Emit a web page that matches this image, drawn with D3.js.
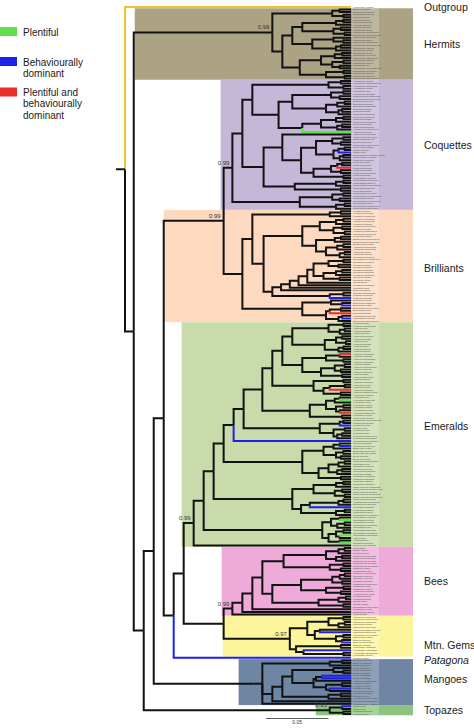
<!DOCTYPE html>
<html><head><meta charset="utf-8">
<script src="https://cdn.jsdelivr.net/npm/d3@7"></script>
<style>body{margin:0;background:#fff}svg{display:block}</style>
</head><body>
<svg id="chart" width="474" height="728"></svg>
<script>
// ===================== DATA =====================
// Tree topology in Newick-like form. Internal nodes carry their height above the tips
// (units of 0.001 substitutions/site), "#x" = posterior support. "*" = tip, optional
// letter = highlighted tip state (g plentiful, b behaviourally dominant, r both, y outgroup).
const backboneNewick = "({Outgroup},({Hermits},(((({Coquettes},{Brilliants})102#0.99,(({Emeralds},({Bees},{MtnGems})102)134,{Patagona})142)150,{Mangoes})158,{Topazes})166)174)181";
const rootEdge = 7.2;
const scaleBarValue = 0.05;            // substitutions/site
const heightUnit = 0.001;

const outgroupNewick = "*y";
const hermitsNewick = "(((*,*)9,(*,*)6)15,(((((*,*)6,*)12,((*,*)8,(*,*)5)14)39,((*,(*,*)6)14,((*,*)8,*)12)31)47,((((*,*)7,*)13,((*,*)6,(*,*)9)15)24,((*,*)6,(*,*)5)20)41)55)63#0.99";
const coquettesNewick = "(((((*,*)8,(*,*)6)18,((((*,*)6,(*,*)9)16,(((*,*)5,*)11,((*,*)7,*)10)20)47,((((*,*)6,*)12,((*,*)7,*)11)24,*g)39)58)79,((*,((((*,*)6,(*,*)8)15,(((*,*)5,*b)10,((*,*)6,*)9)14)28,((((*,*)7,*r)11,(*,*)8)16,(*,*)6)30)40)55,(((*,*)6,*)12,(*,*)8)45)70)87,(((*,*)6,(*,*)9)15,((*,*)5,*)12)41)95#0.99";
const brilliantsNewick = "((((*,*)8,*)17,(((((*,*)6,*)12,((*,*)7,(*,*)5)14)25,(((*,*)8,*)13,(((*,*)6,*)11,((*,*)5,*)9)20)28)39,((((((((*,*)6,(*,*)10)18,(((*,*)7,*)12,(*,*)9)22)30,*)35,*)42,*)49,*)56,((*,*)6,*b)17)63)70)79,((*,(*,*b)7)16,(((*,*)8,*r)17,((*,*b)7,*)10)20)39)87";
const emeraldsNewick = [
  "((((((((",
  "((((*,*)6,((*,*)5,*)9)18,(((*,*)7,(*,*)4)12,((*,*)6,*)10)21)47,(((*r,*)9,(*,*)6)20,(((*,*)5,(*,*)8)13,(*,*)7)24)39)55",
  ",((*,*)6,(((*,*)5,*r)17,(*,*)8)22)30)63",
  ",((((*,*g)9,*)13,((*,*)6,(*,*r)9)12)20,(*,*)7)33)71",
  ",(((*,*)6,*b)9,((*,*)5,((*,*)7,*)11)14)25)86",
  ",*b)94",
  ",((((*,*b)9,*)14,((*,*)6,(*,*)8)12)22,((((*,*)5,*)10,((*,*)7,*)11)18,(*,*)8)26)39)102",
  ",((((*,*)6,*)12,((*,*)7,(*,*)5)13)30,((((*,*)6,*)10,*b)33,((*,*)5,*)12)40)47)110",
  ",(((*,*g)9,((*,*)5,*)11)16,(((*,*)6,(*g,*)9)12,(*,*g)9)18)23)118",
  ",*)126#0.99"
].join("");
const beesNewick = "((((((((*,*)5,*)10,((*,*)7,*)12)20,((*,*)6,(*,*)8)17)54,(((((*,*)5,*)9,(*,*)7)15,((*,*)6,(*,*)8)20)40,(((*,*)4,*)10,(*,*)6)26)63)71,*)79,*)87,*)95#0.99";
const mtnGemsNewick = "((((*,*)6,((*,*)5,*)10)18,((*,*b)25,((*,*)6,(*,*b)7)12)29)35,((*,*)8,(*b,(*,*)6)38)44)49#0.97";
const patagonaNewick = "*b";
const mangoesNewick = "((((*,*)7,*)17,((((*,(*,*)6)14,(((*b,*b)23,*)28,((*,*)7,(*b,*)17)20)30)47,((*,*)8,*)18)55,*)63,*)71)78,((((*,*b)7,*)14,(*b,*b)23)30,(((*,*b)7,*)12,*)20)39)86#0.99";
const topazesNewick = "((*b,*)7,(*,*)6)17#0.95";

const outgroupTips = ["Hemiprocne comata"];
const hermitsTips = ["Eutoxeres aquila","Eutoxeres condamini","Ramphodon naevius","Glaucis hirsutus","Threnetes ruckeri","Threnetes leucurus","Anopetia gounellei","Phaethornis ruber","Phaethornis stuarti","Phaethornis griseogularis","Phaethornis longuemareus","Phaethornis striigularis","Phaethornis idaliae","Phaethornis atrimentalis","Phaethornis subochraceus","Phaethornis nattereri","Phaethornis augusti","Phaethornis pretrei","Phaethornis eurynome","Phaethornis anthophilus","Phaethornis hispidus","Phaethornis yaruqui","Phaethornis guy","Phaethornis syrmatophorus","Phaethornis koepckeae","Phaethornis philippii","Phaethornis bourcieri","Phaethornis superciliosus"];
const coquettesTips = ["Heliangelus mavors","Heliangelus amethysticollis","Heliangelus strophianus","Heliangelus exortis","Heliangelus viola","Heliangelus micraster","Sephanoides sephaniodes","Sephanoides fernandensis","Discosura conversii","Discosura popelairii","Discosura longicaudus","Lophornis ornatus","Lophornis gouldii","Lophornis magnificus","Lophornis chalybeus","Lophornis delattrei","Lophornis stictolophus","Lophornis helenae","Lophornis adorabilis","Adelomyia melanogenys","Aglaiocercus kingii","Aglaiocercus coelestis","Aglaiocercus berlepschi","Sappho sparganurus","Polyonymus caroli","Taphrolesbia griseiventris","Oreonympha nobilis","Lesbia victoriae","Lesbia nuna","Ramphomicron microrhynchum","Ramphomicron dorsale","Metallura tyrianthina","Metallura williami","Metallura odomae","Metallura theresiae","Metallura eupogon","Metallura aeneocauda","Metallura phoebe","Chalcostigma ruficeps","Chalcostigma olivaceum","Chalcostigma stanleyi","Chalcostigma heteropogon","Chalcostigma herrani","Oxypogon guerinii","Opisthoprora euryptera","Oreotrochilus melanogaster","Oreotrochilus estella","Oreotrochilus leucopleurus","Oreotrochilus adela","Oreotrochilus chimborazo","Oreotrochilus stolzmanni"];
const brilliantsTips = ["Heliodoxa jacula","Heliodoxa imperatrix","Heliodoxa leadbeateri","Heliodoxa rubinoides","Heliodoxa aurescens","Heliodoxa branickii","Heliodoxa schreibersii","Heliodoxa gularis","Heliodoxa xanthogonys","Clytolaema rubricauda","Urochroa bougueri","Boissonneaua flavescens","Boissonneaua matthewsii","Boissonneaua jardini","Aglaeactis cupripennis","Aglaeactis castelnaudii","Aglaeactis aliciae","Aglaeactis pamela","Lafresnaya lafresnayi","Pterophanes cyanopterus","Coeligena coeligena","Coeligena wilsoni","Coeligena prunellei","Coeligena torquata","Coeligena phalerata","Coeligena bonapartei","Coeligena lutetiae","Coeligena violifer","Coeligena iris","Coeligena helianthea","Coeligena orina","Ensifera ensifera","Ocreatus underwoodii","Urosticte benjamini","Urosticte ruficrissa","Eriocnemis luciani","Eriocnemis mosquera","Eriocnemis vestita","Eriocnemis cupreoventris","Eriocnemis derbyi","Eriocnemis alinae","Haplophaedia aureliae","Haplophaedia lugens","Eriocnemis glaucopoides"];
const emeraldsTips = ["Amazilia tzacatl","Amazilia yucatanensis","Amazilia rutila","Amazilia amabilis","Amazilia decora","Amazilia rosenbergi","Amazilia boucardi","Amazilia luciae","Amazilia fimbriata","Amazilia lactea","Amazilia amazilia","Amazilia franciae","Amazilia leucogaster","Amazilia versicolor","Amazilia chionogaster","Amazilia viridicauda","Amazilia candida","Amazilia cyanocephala","Amazilia violiceps","Amazilia viridifrons","Amazilia tobaci","Amazilia saucerottei","Amazilia edward","Amazilia cyanifrons","Amazilia beryllina","Amazilia cyanura","Amazilia viridigaster","Amazilia castaneiventris","Amazilia brevirostris","Hylocharis grayi","Hylocharis humboldtii","Hylocharis eliciae","Hylocharis leucotis","Hylocharis xantusii","Hylocharis chrysura","Hylocharis sapphirina","Hylocharis cyanus","Chrysuronia oenone","Lepidopyga coeruleogularis","Lepidopyga goudoti","Lepidopyga lilliae","Juliamyia julie","Leucippus fallax","Leucippus baeri","Leucippus chlorocercus","Leucippus taczanowskii","Taphrospilus hypostictus","Chalybura buffonii","Chalybura urochrysia","Eupherusa eximia","Eupherusa poliocerca","Eupherusa nigriventris","Elvira chionura","Elvira cupreiceps","Microchera albocoronata","Goethalsia bella","Goldmania violiceps","Trochilus polytmus","Leucochloris albicollis","Thalurania furcata","Thalurania colombica","Thalurania glaucopis","Thalurania ridgwayi","Thalurania watertonii","Campylopterus largipennis","Campylopterus hemileucurus","Campylopterus falcatus","Campylopterus ensipennis","Campylopterus villaviscensio","Campylopterus duidae","Aphantochroa cirrochloris","Eupetomena macroura","Cynanthus latirostris","Cynanthus sordidus","Cyanophaia bicolor","Chlorostilbon mellisugus","Chlorostilbon canivetii","Chlorostilbon ricordii","Chlorostilbon lucidus","Chlorostilbon poortmani","Chlorostilbon alice","Chlorostilbon stenurus","Chlorostilbon maugaeus","Chlorostilbon swainsonii","Klais guimeti","Abeillia abeillei","Stephanoxis lalandi","Orthorhyncus cristatus"];
const beesTips = ["Myrtis fanny","Eulidia yarrellii","Myrmia micrura","Chaetocercus mulsant","Chaetocercus bombus","Chaetocercus heliodor","Chaetocercus jourdanii","Chaetocercus berlepschi","Rhodopis vesper","Thaumastura cora","Calliphlox amethystina","Calliphlox mitchellii","Calliphlox evelynae","Calliphlox bryantae","Microstilbon burmeisteri","Calothorax lucifer","Calothorax pulcher","Archilochus colubris","Archilochus alexandri","Mellisuga helenae","Mellisuga minima","Calypte anna","Calypte costae","Selasphorus platycercus","Selasphorus rufus","Selasphorus calliope","Atthis heloisa"];
const mtnGemsTips = ["Lampornis clemenciae","Lampornis amethystinus","Lampornis viridipallens","Lampornis sybillae","Lampornis hemileucus","Lampornis castaneoventris","Lampornis calolaemus","Lampornis cinereicauda","Lamprolaima rhami","Eugenes fulgens","Eugenes spectabilis","Panterpe insignis","Heliomaster constantii","Heliomaster longirostris","Heliomaster squamosus","Heliomaster furcifer"];
const patagonaTips = ["Patagona gigas"];
const mangoesTips = ["Doryfera ludovicae","Doryfera johannae","Schistes geoffroyi","Colibri delphinae","Colibri thalassinus","Colibri cyanotus","Colibri coruscans","Colibri serrirostris","Androdon aequatorialis","Heliactin bilophus","Heliothryx barroti","Heliothryx auritus","Polytmus guainumbi","Polytmus theresiae","Polytmus milleri","Avocettula recurvirostris","Chrysolampis mosquitus","Anthracothorax viridigula","Anthracothorax prevostii","Anthracothorax nigricollis","Anthracothorax veraguensis","Anthracothorax dominicus","Anthracothorax viridis","Anthracothorax mango","Eulampis jugularis","Eulampis holosericeus","Schistes albogularis"];
const topazesTips = ["Topaza pella","Topaza pyra","Florisuga mellivora","Florisuga fusca"];

const cladeKeys   = ["Outgroup","Hermits","Coquettes","Brilliants","Emeralds","Bees","MtnGems","Patagona","Mangoes","Topazes"];
const cladeLabels = ["Outgroup","Hermits","Coquettes","Brilliants","Emeralds","Bees","Mtn. Gems","Patagona","Mangoes","Topazes"];
const cladeNewicks = [outgroupNewick,hermitsNewick,coquettesNewick,brilliantsNewick,emeraldsNewick,beesNewick,mtnGemsNewick,patagonaNewick,mangoesNewick,topazesNewick];
const cladeTips = [outgroupTips,hermitsTips,coquettesTips,brilliantsTips,emeraldsTips,beesTips,mtnGemsTips,patagonaTips,mangoesTips,topazesTips];

const legendKeys = ["g","b","r"];
const legendLabels = [["Plentiful"],["Behaviourally","dominant"],["Plentiful and","behaviourally","dominant"]];

// ===================== STYLE =====================
const stateColor = {g:"#5ee04c", b:"#1d21ea", r:"#ea2f2a", y:"#f3c22c"};
const cladeStyle = {
  Hermits:   {fill:"#aca384", from:"parent", dx:1,  dy:0},
  Coquettes: {fill:"#c4b7d8", from:"parent", dx:-3, dy:0},
  Brilliants:{fill:"#fcd9bf", from:"grandparent", dx:0, dy:2},
  Emeralds:  {fill:"#c9dbaa", from:"parent", dx:-2, dy:-8},
  Bees:      {fill:"#eeabd9", from:"parent", dx:-2, dy:0},
  MtnGems:   {fill:"#fdf59c", from:"parent", dx:-1, dy:9},
  Mangoes:   {fill:"#6e86a4", from:"node", dx:-15, dy:-3},
  Topazes:   {fill:"#8dc47d", from:"node", dx:-14, dy:0},
  Outgroup:  {fill:null, dy:0},
  Patagona:  {fill:null, dy:2, italic:true}
};
const FONT = "'Liberation Sans', Arial, Helvetica, sans-serif";

// ===================== PARSE =====================
function parseNewick(s, onRef) {
  let i = 0;
  const num = () => { const m = /^[0-9.]+/.exec(s.slice(i)); if (!m) return null; i += m[0].length; return +m[0]; };
  function node() {
    if (s[i] === "(") {
      i++;
      const children = [node()];
      while (s[i] === ",") { i++; children.push(node()); }
      if (s[i] !== ")") throw new Error("Bad newick at " + i + ": " + s.slice(i, i + 12));
      i++;
      const n = {children, height: num()};
      if (s[i] === "#") { i++; n.support = String(num()); }
      return n;
    }
    if (s[i] === "*") {
      i++;
      const n = {height: 0};
      if (s[i] && "gbry".includes(s[i])) { n.color = s[i]; i++; }
      return n;
    }
    if (s[i] === "{") {
      const j = s.indexOf("}", i);
      const key = s.slice(i + 1, j); i = j + 1;
      return onRef(key);
    }
    throw new Error("Unexpected '" + s[i] + "' at " + i);
  }
  return node();
}
function leavesOf(n, out = []) { if (n.children) n.children.forEach(c => leavesOf(c, out)); else out.push(n); return out; }

const treeData = parseNewick(backboneNewick, key => {
  const k = cladeKeys.indexOf(key);
  const sub = parseNewick(cladeNewicks[k]);
  sub.clade = key;
  const lv = leavesOf(sub);
  lv.forEach((l, j) => { l.name = cladeTips[k][j] || ""; l.tipClade = key; });
  return sub;
});

// ===================== LAYOUT =====================
const svg = d3.select("#chart");
const root = d3.hierarchy(treeData);
const leaves = root.leaves();
const x = d3.scaleLinear().domain([treeData.height, 0]).range([125, 351]);
const y = d3.scaleLinear().domain([0, leaves.length - 1]).range([7, 714]);
const step = y(1) - y(0);
leaves.forEach((l, i) => l.py = y(i));
root.eachAfter(n => {
  n.px = x(n.data.height);
  if (n.children) n.py = (n.children[0].py + n.children[n.children.length - 1].py) / 2;
});

// clade boxes
const cladeNodes = root.descendants().filter(n => n.data.clade);
const boxRight = 413, labelCol = [352, 379];
const gBox = svg.append("g");
cladeNodes.forEach(n => {
  const st = cladeStyle[n.data.clade];
  const lv = n.leaves();
  const y0 = lv[0].py - step / 2, hgt = lv[lv.length - 1].py - lv[0].py + step;
  if (st.fill) {
    let x0;
    if (st.from === "parent") x0 = n.parent.px;
    else if (st.from === "grandparent") x0 = n.parent.parent.px;
    else x0 = n.px;
    x0 += st.dx;
    gBox.append("rect").attr("x", x0).attr("y", y0)
      .attr("width", boxRight - x0).attr("height", hgt).attr("fill", st.fill);
    // pale backing behind the tip-name column
    gBox.append("rect").attr("x", labelCol[0]).attr("y", y0)
      .attr("width", labelCol[1] - labelCol[0]).attr("height", hgt)
      .attr("fill", "#fff").attr("opacity", 0.22);
  }
});

// branches
const links = root.descendants().filter(n => n.parent);
const gLinks = svg.append("g").attr("fill", "none").attr("stroke-width", 2).attr("stroke-linejoin", "miter");
const linkPath = n => `M${n.parent.px},${n.parent.py}V${n.py}H${n.px}`;
gLinks.selectAll("path.k").data(links.filter(n => !n.data.color)).join("path")
  .attr("d", linkPath).attr("stroke", "#121212");
gLinks.selectAll("path.c").data(links.filter(n => n.data.color)).join("path")
  .attr("d", linkPath).attr("stroke", n => stateColor[n.data.color]);
// root edge
gLinks.append("path").attr("d", `M${x(treeData.height + rootEdge)},${root.py}H${root.px}`).attr("stroke", "#121212");

// tip labels
svg.append("g").selectAll("text").data(leaves).join("text")
  .attr("x", 353).attr("y", d => d.py).attr("dy", "0.33em")
  .attr("font-family", FONT).attr("font-size", 2.3).attr("fill", "#4a4a4a")
  .text(d => d.data.name);

// support values
svg.append("g").selectAll("text").data(root.descendants().filter(n => n.data.support)).join("text")
  .attr("x", n => n.px - 3).attr("y", n => n.py - 3)
  .attr("text-anchor", "end").attr("font-family", FONT).attr("font-size", 6).attr("fill", "#333")
  .text(n => n.data.support);

// clade labels
cladeNodes.forEach(n => {
  const k = cladeKeys.indexOf(n.data.clade);
  const st = cladeStyle[n.data.clade];
  const lv = n.leaves();
  const cy = (lv[0].py + lv[lv.length - 1].py) / 2 + st.dy;
  svg.append("text").attr("x", 424).attr("y", cy).attr("dy", "0.35em")
    .attr("font-family", FONT).attr("font-size", 10.5).attr("fill", "#1a1a1a")
    .attr("font-style", st.italic ? "italic" : null)
    .text(cladeLabels[k]);
});

// legend
const gLeg = svg.append("g").attr("font-family", FONT).attr("font-size", 10).attr("fill", "#1a1a1a");
const legTop = [27, 57, 87.5];
legendKeys.forEach((k, i) => {
  gLeg.append("rect").attr("x", 0).attr("y", legTop[i]).attr("width", 17).attr("height", 9).attr("fill", stateColor[k]);
  legendLabels[i].forEach((t, j) => {
    gLeg.append("text").attr("x", 23).attr("y", legTop[i] + 8.5 + j * 11.3).text(t);
  });
});

// scale bar
const barLen = x(0) - x(scaleBarValue / heightUnit);
const bx0 = 266, by = 718.5;
svg.append("line").attr("x1", bx0).attr("x2", bx0 + barLen).attr("y1", by).attr("y2", by)
  .attr("stroke", "#333").attr("stroke-width", 0.8);
svg.append("text").attr("x", bx0 + barLen / 2).attr("y", by + 5.5).attr("text-anchor", "middle")
  .attr("font-family", FONT).attr("font-size", 5).attr("fill", "#333").text(String(scaleBarValue));
</script>
</body></html>
